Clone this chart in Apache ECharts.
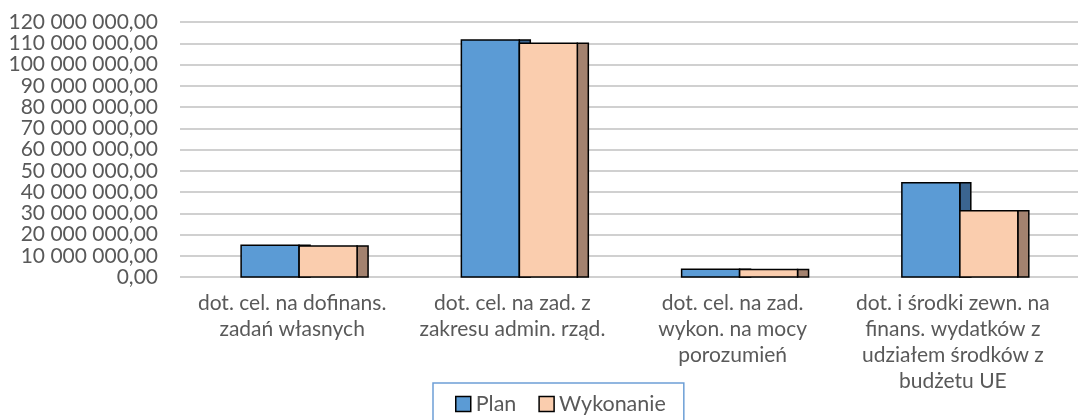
<!DOCTYPE html>
<html>
<head>
    <meta charset="utf-8">
    <title>Dotacje - plan i wykonanie</title>
    <script src="https://cdn.jsdelivr.net/npm/echarts@6/dist/echarts.min.js"></script>
    <style>
        html, body { margin: 0; padding: 0; background: #fff; }
        #main { width: 1078px; height: 420px; }
    </style>
</head>
<body>
<div id="main"></div>
<script type="text/javascript">
    // dane
    var categories = [
        'dot. cel. na dofinans.\nzadań własnych',
        'dot. cel. na zad. z\nzakresu admin. rząd.',
        'dot. cel. na zad.\nwykon. na mocy\nporozumień',
        'dot. i środki zewn. na\nfinans. wydatków z\nudziałem środków z\nbudżetu UE'
    ];
    var planValues = [15000000, 111500000, 3600000, 44400000];
    var wykonanieValues = [14600000, 110000000, 3500000, 31200000];
    var yTicks = [0, 120000000, 10000000]; // min, max, interval

    var font = 'Lato';
    var textColor = '#595959';

    function fmt(v) {
        var s = Math.round(v).toString().replace(/\B(?=(\d{3})+(?!\d))/g, ' ');
        return s + ',00';
    }

    // slupek z bocznym "glebokim" bokiem, jak w wykresie 3D Excela
    function barRenderer(leftFrac, front, side) {
        return function (params, api) {
            var idx = api.value(0);
            var top = api.coord([idx, api.value(1)]);
            var base = api.coord([idx, 0]);
            var band = api.size([1, 0])[0];
            var w = band * 0.263;
            var depth = band * 0.05;
            var x = top[0] + band * leftFrac;
            var h = base[1] - top[1];
            var stroke = {stroke: '#000', lineWidth: 1.5};
            return {
                type: 'group',
                children: [{
                    type: 'rect',
                    shape: {x: x + w, y: top[1], width: depth, height: h},
                    style: Object.assign({fill: side}, stroke)
                }, {
                    type: 'rect',
                    shape: {x: x, y: top[1], width: w, height: h},
                    style: Object.assign({fill: front}, stroke)
                }]
            };
        };
    }

    var myChart = echarts.init(document.getElementById('main'));
    myChart.setOption({
        animation: false,
        textStyle: {fontFamily: font},
        grid: [
            {left: 180, right: 0, top: 22, bottom: 143},
            {left: 182, right: 15, top: 22, bottom: 143}
        ],
        xAxis: [{
            gridIndex: 0, type: 'value', show: false, min: 0, max: 1
        }, {
            gridIndex: 1, type: 'category', data: categories,
            axisLine: {show: false}, axisTick: {show: false},
            axisLabel: {
                interval: 0, margin: 13, color: textColor,
                fontFamily: font, fontSize: 21, lineHeight: 26
            }
        }],
        yAxis: [{
            gridIndex: 0, type: 'value',
            min: yTicks[0], max: yTicks[1], interval: yTicks[2],
            axisLine: {show: false}, axisTick: {show: false},
            axisLabel: {
                margin: 22, color: textColor, fontFamily: font, fontSize: 21,
                formatter: fmt
            },
            splitLine: {lineStyle: {color: '#D0D0D0', width: 2}}
        }, {
            gridIndex: 1, type: 'value', show: false,
            min: yTicks[0], max: yTicks[1], interval: yTicks[2],
            splitLine: {show: false}
        }],
        legend: {
            left: 433, top: 383,
            padding: [10, 18, 10, 22],
            itemGap: 22, itemWidth: 15, itemHeight: 15,
            borderColor: '#6D9FD6', borderWidth: 1.5,
            icon: 'rect',
            textStyle: {color: textColor, fontFamily: font, fontSize: 21.5, padding: [0, 0, 0, 0]},
            data: [
                {name: 'Plan', itemStyle: {color: '#5B9BD5', borderColor: '#000', borderWidth: 1.5}},
                {name: 'Wykonanie', itemStyle: {color: '#FACDAE', borderColor: '#000', borderWidth: 1.5}}
            ]
        },
        series: [{
            name: 'Plan', type: 'custom', xAxisIndex: 1, yAxisIndex: 1,
            itemStyle: {color: '#5B9BD5'},
            renderItem: barRenderer(-0.2316, '#5B9BD5', '#3B6590'),
            data: planValues.map(function (v, i) { return [i, v]; })
        }, {
            name: 'Wykonanie', type: 'custom', xAxisIndex: 1, yAxisIndex: 1,
            itemStyle: {color: '#FACDAE'},
            renderItem: barRenderer(0.0318, '#FACDAE', '#A3826F'),
            data: wykonanieValues.map(function (v, i) { return [i, v]; })
        }]
    });
</script>
</body>
</html>
